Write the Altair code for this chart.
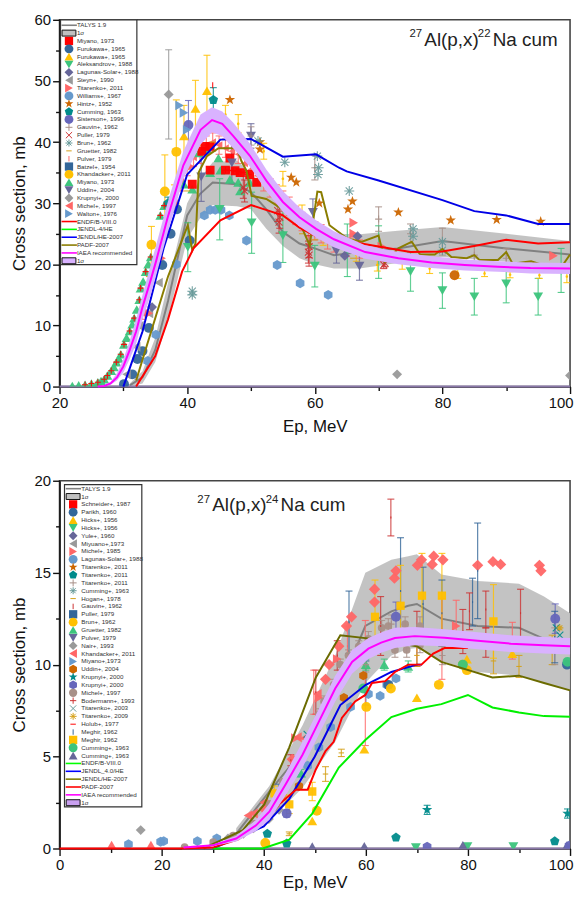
import altair as alt
import pandas as pd

HEX = "M0,-1L.87,-.5V.5L0,1L-.87,.5V-.5Z"
PENT = "M0,-1L.95,-.31L.59,.81H-.59L-.95,-.31Z"
STAR = "M0,-1.1L.26,-.36H1.05L.42,.12L.65,.9L0,.44L-.65,.9L-.42,.12L-1.05,-.36H-.26Z"
PLUS = "M-1,0H1M0,-1V1"
XMARK = "M-1,-1L1,1M-1,1L1,-1"
AST = "M-1,0H1M0,-1V1M-.72,-.72L.72,.72M-.72,.72L.72,-.72"
DASH = "M-1,0H1"
BAR = "M0,-1V1"
STROKED = {PLUS, XMARK, AST, DASH, BAR}

# ---------------- top panel curves
A_iaea_x = [26,27,28,29,30,31,32,33,34.3,35.1,36.9,39.4,42.1,43.9,45.5,47.2,49.8,52.4,55,57.6,60.2,63,67.9,73.1,78.3,83.5,88.7,93.8,100]
A_iaea_y = [0.02,.1,.5,1.5,3.3,6,9,13,17.5,20.4,27.5,36.2,42,43.6,43,41,37.8,33.7,30.2,27.7,25.8,24.1,22,21,20.3,19.9,19.6,19.4,19.3]
A_iaea_u = [.05,.2,.8,2.2,4.5,7.5,11,15,20,23,30,38.5,44.5,45.7,45,43.2,39.8,35.5,32,29.3,27.2,25.4,23.1,22,21.3,20.8,20.5,20.3,20.2]
A_iaea_l = [0,.05,.3,1,2.3,4.5,7,11,15,18,25,34,39.6,41.6,41,39,36,32,28.6,26.2,24.4,22.8,20.9,20,19.4,19,18.8,18.5,18.4]
A_talys_x = [31,33,35,37,40,42,44,47.8,50,52.4,55,57.6,60,63,67,73,80,90,100]
A_talys_u = [.5,2.5,8,17,30,34,36.7,37,35,32.3,29.5,26,25,25,24.9,25.5,26.1,25,23.8]
A_talys_l = [0,.5,4,11,24.2,27.5,29.7,29.5,29,25.8,23,21,20,19.3,19.3,20.2,21.2,20.4,19.6]
A_talys_y = [.2,1.5,6,14,28,31.5,33.4,33.1,31.8,29,25.3,23.4,22.6,21.5,22,22.6,23.8,22.6,21.6]
A_jendl_x = [30,33,36.3,40,45.2,50,55,60.2,63.8,65,70,80,85,90,95,100]
A_jendl_y = [0,9,22.6,34.7,40.4,40.5,37.6,38,35.8,35.2,33.7,30.5,28.7,28,26.6,26.6]
A_padf_x = [32,37,40.1,40.8,41.3,41.8,43.1,44.9,47.8,48.5,49.3,50.1,52.4,55,57.6,59.2,60.4,61,62.3,65.1,67.4,70,71,73.1,75.2,76.5,78.8,80,81.4,83.8,85,85.8,88.7,90,91,93.9,97.5,99,100]
A_padf_y = [1,18,26.4,22.3,23.4,35,37.7,39,39,36.9,35.3,31.2,30.7,29,26.9,23.1,31.9,31.8,26.4,24.2,23.7,24.7,20.4,22.6,23.7,21.6,21.6,22.5,21.2,21,21.5,20.7,20.7,22,20.1,20.5,19.3,20.1,21.6]
A_endf_x = [32,35,37,39.2,41,45.2,50,55,57.6,60,70,75,80,85,90,95,100]
A_endf_y = [0,5,11,18.8,22.6,27.2,29.7,28,26,24.7,22.9,22,22.1,23,24,23.4,23.6]
A_zero_x = [20,100]
A_zero_y = [0,0]

# ---------------- top panel experiments
A_alek_x = [40.1,45.1,50.1,55,60,65.1,70,75,80,85,90,95,98.6]
A_alek_y = [22.8,29,26.8,24.7,19.7,22.3,22,18.8,15.7,14.7,16.8,14.7,19]
A_alek_e = [4,5,5,4.4,3.4,4.3,4.3,3.2,2.9,3,3.1,3,3.6]
A_mitri_x = [22,23,24,25,26,26.5,27,27.5,28.1,28.5,28.9,29.3,29.6,30.1,30.5,31,31.4,31.7,32.1,32.5,32.7,33.1,33.5,33.9,34.3,35.8,36.4,39.5,40.8,41.8,43.1,43.6,44.9,45.2,46.7,48,48.3,49.8]
A_mitri_y = [.1,.2,.3,.5,.7,.9,1.2,1.8,2.6,3.2,4,4.6,5.3,6.9,8,9.1,10.2,11.2,12.6,14.2,16.1,17.2,18.8,20,21.2,28,29.6,33.1,32.3,38.2,38.8,35,37.4,35.4,33.9,33.4,32,33.4]
A_plus_x = [24,25,26,27,27.5,28.1,28.9,29.6,30.1,31,31.7,32.5,32.7,33.5,34.3,35.8,36.4,46,46.6,47.2,47.8,48.4,49,49.6]
A_plus_y = [.3,.5,.7,1.2,1.8,2.6,4,5.3,6.9,9.1,11.2,14.2,16.1,18.8,21.2,28,29.6,35.4,35.4,35.3,35.2,35.1,35,34.7]
A_red_x = [40.8,42.3,42.8,43.6,43.6,46,46.7,47.5,48.3,49.8,50.9]
A_red_y = [33.1,38.5,39.3,39.3,35.4,35.4,37.4,35.3,35,34.7,33.4]
A_furu_x = [30.1,31.4,32.2,33,34,36.1,37.4,38.4,40.4]
A_furu_y = [.4,2,4.5,5.8,9.6,19.9,25,29,23.9]
A_fury_x = [39.5,41.3,43.1]
A_fury_y = [41,45.5,48.4]
A_fury_e = [5,4.6,5.8]
A_lag_x = [34.5,64.7,66.7]
A_lag_y = [13,21.4,24.6]
A_steyn_x = [30.5,32,32.5,34,35.5]
A_steyn_y = [2,6.5,9.9,12,17]
A_tit_x = [66.1,66.1,70.5,97.4,34,36,38,40.5]
A_tit_y = [26.8,25,22.9,21.4,12,21,30,36]
A_will_x = [33.8,35.1,38.3,42.7,43.6,44.4,45.3,46.6,49.3,54.1,57.7,62.1]
A_will_y = [4.2,8.5,20,28,28.9,28.9,28.9,28,23.9,19.9,16.9,15]
A_hintz_x = [46.7,51.4,51.4,56.3,57.1,60.7,65.2,65.9,73.1,81.3,88.5,95.4]
A_hintz_y = [46.9,40,38.8,34.2,33.4,30,29,30.3,28.5,27.2,27.3,27]
A_cum_x = [37,44.1]
A_cum_y = [30,46.9]
A_cum_e = [1,2]
A_teal_x = [38,42,46,48,52,55,58,61.3,66.5,69.8,73.7,78,82.4,86.6,90.6,95.2,99.5]
A_teal_y = [32,41,44.5,43,38.5,34,28.5,24.2,21.5,19.9,20.2,19.3,18.5,18.5,18.3,18.2,18]
A_teal_e = [1,1.5,1.5,1.5,1.3,1.2,1.2,1.1,1,1,1,.8,.8,.5,.5,.5,1]
A_sist_x = [40.2]
A_sist_y = [42.8]
A_sist_e = [4]
A_gauv_x = [50,60,70,75,80,85,90]
A_gauv_y = [41,35.8,27.4,25,23.7,21.5,21]
A_gauv_e = [1.5,2,2,1.6,2.2,1.6,1.6]
A_pull_x = [48.8,49,54.2,54.5,54.4,59.1,59,59.1,70.8,71]
A_pull_y = [32.6,32,28.8,27.7,26.9,22.9,22,21.5,19.9,20.2]
A_pull_e = [1.8,1.8,1.8,1.8,1.8,1.8,1.8,1.8,.6,.6]
A_brun_x = [40.8,40.8,51.1,55.3,60.4,60.6,60.5,65.4,75.4,75.4,80,80]
A_brun_y = [15.6,15,40.2,36.7,37.7,35.8,34.7,32,25.8,24.6,23.7,22.3]
A_grue_x = [34,40,44,58,60,66,78,86]
A_grue_y = [18,32,40,25,24,21,20,19]
A_pulv_x = [44]
A_pulv_y = [49.3]
A_khan_x = [34.4,36.5,38.3]
A_khan_y = [23.2,31.9,38.4]
A_khan_e = [3,6,8.5]
A_uddin_x = [42.2,47,50,59.7,63.4,67]
A_uddin_y = [34.3,36.6,41,28.5,22.2,19.7]
A_uddin_e = [4,3.3,2,2.2,2,2.3]
A_krup_x = [37.1,72.9,100]
A_krup_y = [47.8,2,1.8]
A_krup_e = [7.3,0,0]
A_mich_x = [33,35,38,39,40,41,42,43,44,45,46,47,48,49,50,51,52,53,54,55,56,57,58,59,60,61,62,63,65,66,67]
A_mich_y = [12,20,30,33.5,36,37.5,38,39.5,40,39.5,39,38.5,38,36.5,35.5,34.5,33.5,32.5,31.5,30.5,29.5,28,27,26,25.5,25,24,23.5,22.8,23.5,22.5]
A_mich_e = [1,1,1.5,1.5,1.5,1.5,1.5,1.5,1.5,1.5,1.5,1.5,1.5,1.5,1.5,1.5,1.5,1.5,1.5,1.5,1.5,1.5,1.5,1.5,1.5,1.5,1.5,1.5,1.5,1.5,1.5]
A_walt_x = [38.8,39.5,40]
A_walt_y = [46,44.8,42]
A_orange_x = [81.9]
A_orange_y = [18.2]

# ---------------- bottom panel curves
B_iaea_x = [24.3,30.1,34.6,38.5,41.1,44.3,47.6,50.8,54,57.3,60.5,63,65.7,69.6,75.4,81.9,88.4,94.9,100]
B_iaea_y = [.05,.18,.54,1.26,2,3.5,5.1,6.9,8.7,10.15,10.87,11.2,11.45,11.55,11.46,11.3,11.14,11.05,11]
B_iaea_u = [.06,.22,.7,1.55,2.45,4.1,5.8,7.6,9.4,10.8,11.45,11.75,12,12.05,11.92,11.76,11.6,11.5,11.45]
B_iaea_l = [.03,.14,.38,.95,1.55,2.9,4.4,6.2,8,9.5,10.3,10.65,10.9,11.05,11,10.84,10.68,10.6,10.55]
B_talys_x = [34.6,41.1,47.6,54,59.9,65,68.3,70,74.8,81.9,90,94.9,100]
B_talys_y = [.8,3.1,5.3,8.2,12.1,12.9,13.2,13.3,12.5,12.1,12,11.4,10.9]
B_talys_u = [1.1,3.4,6.7,10.5,15,15.7,15.9,16,14.9,14.55,14.4,13.7,12.8]
B_talys_l = [.55,1.5,3.3,5.8,9,10.5,10.85,10.9,10.2,9.6,9.4,9,8.6]
B_padf_x = [28.2,35.9,40.1,45,50.2,55,61.2,70,74.8,84.8,90,94.9,100]
B_padf_y = [0,1,2.4,5.5,9.3,11.6,11.4,11,10.15,9.3,9.4,9,8.6]
B_endf_x = [30,39.8,45,49.5,54.7,59.9,65,70,74.8,80,84.8,90,94.9,100]
B_endf_y = [0,0,.48,1.9,4.4,5.9,7.15,7.6,7.85,8.35,7.67,7.4,7.2,7.17]
B_jendl_x = [30,40,45,50,55,60,65,70,71]
B_jendl_y = [0,1.2,2.7,5,7.8,8.9,9.6,10,10]
B_red_x = [0,24,30,35,40,43,46.3,48.6,50.2,52.1,53.7,55.3,57.9,59.9,61.2,63.8,65.7,68.3,70.9,73.2,75.4,80]
B_red_y = [0,0,.05,.5,1.4,2.4,3.2,3.2,4.3,5.3,5.8,7.1,8,8.35,9,9.1,9.6,10,10,10.6,10.9,10.9]
B_zero_x = [24,100]
B_zero_y = [0,0]

# ---------------- bottom panel experiments
B_dia_x = [40.1,45.6,52.1,52.8,54.7,56.2,57.2,61.7,61.7,65.6,65.9,70.1,70.9,73,73.3,75.1,81.9,84.9,86.4,94,94.3]
B_dia_y = [2.15,4.85,9.2,10,11,12.1,12.6,13.4,14.1,14.7,15.1,15.4,15.7,15.45,15.9,15.7,15.4,15.6,15.45,15.4,15.1]
B_left_x = [36.9,46.6,47.9,50.5,38,40]
B_left_y = [1.8,6.05,6,8.4,1.9,2.5]
B_right_x = [46.2,54.4,77.7,50.8]
B_right_y = [6,10.3,12.1,8.2]
B_tan_x = [24.5,30.1,34,37.9,41.1,43.7,46.3,48.9,50.8,51.8,53.7,55,56.6,58.6,60.5,63.1,64.4,65.7,67.7,68,70.6,70.6]
B_tan_y = [.08,.35,.7,1.35,2.4,3.6,4.6,5.8,7.3,8,8.9,10,10.5,11,11.4,12,12.1,10.8,12.2,10.8,12.1,11.05]
B_tan_e = [.05,.1,.1,.15,.2,.2,.25,.25,.3,.3,.3,.3,.3,.3,.4,.4,.4,.4,.4,.4,.5,.4]
B_hex_x = [13.5,19.8,20.4,27,30.8,48.6,50.8,53.1,57,60.5,62.8,64.1,65.9]
B_hex_y = [.23,.37,.4,.4,.55,4.5,5.5,6.6,7.7,8.4,8.3,8.9,9.25]
B_tri_x = [10.2,17.9]
B_tri_y = [.19,.19]
B_nair_x = [15.9,33,36,38,41,43]
B_nair_y = [1,.55,.8,1.1,1.6,2.1]
B_dblue_x = [64.4,99.4]
B_dblue_y = [8.9,10]
B_ysq_x = [42.1,45,49.5,61.8,66.8,71,74.9,85]
B_ysq_y = [3,2.4,3.1,12.6,13.2,13.75,13.75,12.35]
B_ysq_e = [.4,.5,.5,2,2.2,2.3,2.3,2]
B_ytri_x = [49.5,59.7,70,79.8,88.7]
B_ytri_y = [1.5,5.4,8.2,10.3,10.6]
B_ycir_x = [40.3,50.4,60.1,64.9,74.3,79,79.8]
B_ycir_y = [.3,2.05,7.7,8.7,8.9,10,9.7]
B_gtri_x = [47.3,60,63.6,68.3]
B_gtri_y = [4.1,10,10,9.9]
B_gtri_e = [.2,.3,.3,.3]
B_pent_x = [40.7,44.5,65.9,97]
B_pent_y = [.8,.27,.6,.39]
B_kstar_x = [72,99.5]
B_kstar_y = [2.1,1.9]
B_kstar_e = [.25,.25]
B_ptri_x = [49.5,59.7,79,99.4]
B_ptri_y = [.1,.12,.17,.17]
B_gdown_x = [69.8,79.9,88.9]
B_gdown_y = [.05,.1,.1]
B_phex_x = [72,99.8]
B_phex_y = [.1,.15]
B_gcir_x = [59.5,79,99.5]
B_gcir_y = [8.7,10,10.15]
B_ohex_x = [46.9,55.7,59.5]
B_ohex_y = [3.4,8.2,9.4]
B_kcir_x = [44.5,65.9,97.1]
B_kcir_y = [1.9,12.6,12.5]
B_kcir_e = [.2,.8,.8]
B_blue_x = [43,56.7,60,66.8,71.2,74.9,80.9,81.9,97]
B_blue_y = [3,12.3,9,14,13.3,12.8,13.4,15.1,11.5]
B_blue_e = [.5,1.7,1.2,2.9,2,1.8,1.3,2.6,1.4]
B_rbar_x = [45.3,50.2,54.4,62.9,70,79,80.3,83.5,83.5,90.3,64.9]
B_rbar_y = [4.8,8.5,10.5,12.1,11.4,11.8,12.9,13,11.2,12.8,18]
B_rbar_e = [.3,1.2,.8,1.6,1.5,1.2,1,1,.8,1.3,1]
B_pbar_x = [59.9,56.4,49.8,88.7,74.9,77.7]
B_pbar_y = [9,11,8.5,11.3,11.4,12.2]
B_pbar_e = [3.4,1.1,1.2,1,2.2,1.3]
B_gold_x = [45,52.1,55.2,70,85,90,96.5]
B_gold_y = [.8,4.05,5.2,10.5,10.2,9.9,10.8]
B_gold_e = [.1,.4,.2,.6,.7,.6,.8]
B_gauv_x = [75,60,65,97]
B_gauv_y = [10.5,10,12.2,11]
B_gauv_e = [.5,.4,.5,1]
B_xt_x = [48.5,62,97.3,98]
B_xt_y = [6.2,10.8,12,11.6]
B_ast_x = [98,44]
B_ast_y = [12,2.8]

A_legend = ["TALYS 1.9","1σ","Miyano, 1973","Furukawa+, 1965","Furukawa+, 1965","Aleksandrov+, 1988","Lagunas-Solar+, 1988","Steyn+, 1990","Titarenko+, 2011","Williams+, 1967","Hintz+, 1952","Cumming, 1963","Sisterson+, 1996","Gauvin+, 1962","Puller, 1979","Brun+, 1962","Gruetter, 1982","Pulver, 1979","Batzel+, 1954","Khandacker+, 2011","Miyano, 1973","Uddin+, 2004","Krupnyi+, 2000","Michel+, 1997","Walton+, 1976","ENDF/B-VIII.0","JENDL-4/HE","JENDL/HE-2007","PADF-2007","IAEA recommended","1σ"]
B_legend = ["TALYS 1.9","1σ","Schneider+, 1987","Parikh, 1960","Hicks+, 1956","Hicks+, 1956","Yule+, 1960","Miyuano+,1973","Michel+, 1985","Lagunas-Solar+, 1988","Titarenko+, 2011","Titarenko+, 2011","Titarenko+, 2011","Cumming+, 1963","Hogan+, 1978","Gauvin+, 1962","Puller, 1979","Brun+, 1962","Gruetter, 1982","Pulver, 1979","Nair+, 1993","Khandacker+, 2011","Miyano+,1973","Uddin+, 2004","Krupnyi+, 2000","Krupnyi+, 2000","Michel+, 1997","Bodermann+, 1993","Titarenko+, 2003","Titarenko+, 2009","Holub+, 1977","Meghir, 1962","Meghir, 1962","Cumming+, 1963","Cumming+, 1963","ENDF/B-VIII.0","JENDL_4.0/HE","JENDL/HE-2007","PADF-2007","IAEA recommended","1σ"]

RED, NAVY, GOLD, GREEN, SLATE, GREY, PINK, SKY, ORANGE, TEAL, VIOLET, TAN, BRICK, SAGE, AMBER = (
    "#ff0000", "#336699", "#ffc000", "#3cc47c", "#666699", "#999999", "#ff6666", "#6699cc",
    "#cc6600", "#008b8b", "#6666bb", "#a89088", "#cc3333", "#669999", "#d4a017")
S = 100

# glyph, colour, size, xs, ys, errs
A_series = [
    (DASH, AMBER, 36, A_grue_x, A_grue_y, None),
    (HEX, SKY, S, A_will_x, A_will_y, None),
    ("circle", NAVY, S, A_furu_x, A_furu_y, None),
    ("triangle-left", GREY, S, A_steyn_x, A_steyn_y, None),
    ("triangle-right", PINK, S, A_tit_x, A_tit_y, None),
    ("triangle-left", PINK, 60, A_mich_x, A_mich_y, A_mich_e),
    ("triangle-down", GREEN, S, A_alek_x, A_alek_y, A_alek_e),
    (HEX, GOLD, 8, A_teal_x, A_teal_y, A_teal_e),
    ("triangle-up", GREEN, S, A_mitri_x, A_mitri_y, None),
    ("square", RED, 80, A_red_x, A_red_y, None),
    (PLUS, RED, 40, A_plus_x, A_plus_y, None),
    ("triangle-up", GOLD, S, A_fury_x, A_fury_y, A_fury_e),
    ("diamond", SLATE, S, A_lag_x, A_lag_y, None),
    (STAR, ORANGE, S, A_hintz_x, A_hintz_y, None),
    (PENT, TEAL, S, A_cum_x, A_cum_y, A_cum_e),
    ("circle", VIOLET, S, A_sist_x, A_sist_y, A_sist_e),
    (PLUS, TAN, 50, A_gauv_x, A_gauv_y, A_gauv_e),
    (XMARK, BRICK, 50, A_pull_x, A_pull_y, A_pull_e),
    (AST, SAGE, S, A_brun_x, A_brun_y, None),
    (BAR, RED, 36, A_pulv_x, A_pulv_y, None),
    ("circle", GOLD, S, A_khan_x, A_khan_y, A_khan_e),
    ("triangle-down", SLATE, S, A_uddin_x, A_uddin_y, A_uddin_e),
    ("diamond", GREY, S, A_krup_x, A_krup_y, A_krup_e),
    ("triangle-right", SKY, S, A_walt_x, A_walt_y, None),
    ("circle", ORANGE, S, A_orange_x, A_orange_y, None),
]
A_lines = [(A_zero_x, A_zero_y, "#8a78a8", 2), (A_jendl_x, A_jendl_y, "#0000e6", 2), (A_padf_x, A_padf_y, "#8a7d00", 2), (A_endf_x, A_endf_y, "#ff0000", 2)]

B_series = [
    (HEX, SKY, S, B_hex_x, B_hex_y, None),
    ("diamond", PINK, 130, B_dia_x, B_dia_y, None),
    ("triangle-up", PINK, S, B_tri_x, B_tri_y, None),
    ("triangle-left", PINK, S, B_left_x, B_left_y, None),
    ("triangle-right", PINK, S, B_right_x, B_right_y, None),
    ("diamond", GREY, S, B_nair_x, B_nair_y, None),
    ("circle", TAN, 60, B_tan_x, B_tan_y, B_tan_e),
    ("circle", NAVY, S, B_dblue_x, B_dblue_y, None),
    (BAR, NAVY, 4, B_blue_x, B_blue_y, B_blue_e),
    (BAR, BRICK, 4, B_rbar_x, B_rbar_y, B_rbar_e),
    (BAR, PINK, 4, B_pbar_x, B_pbar_y, B_pbar_e),
    (DASH, AMBER, 30, B_gold_x, B_gold_y, B_gold_e),
    (PLUS, TAN, 40, B_gauv_x, B_gauv_y, B_gauv_e),
    ("triangle-up", GOLD, S, B_ytri_x, B_ytri_y, None),
    ("square", GOLD, 70, B_ysq_x, B_ysq_y, B_ysq_e),
    ("circle", GOLD, S, B_ycir_x, B_ycir_y, None),
    ("triangle-up", GREEN, S, B_gtri_x, B_gtri_y, B_gtri_e),
    (PENT, TEAL, S, B_pent_x, B_pent_y, None),
    (STAR, TEAL, S, B_kstar_x, B_kstar_y, B_kstar_e),
    ("triangle-down", GREEN, S, B_gdown_x, B_gdown_y, None),
    ("triangle-up", SLATE, S, B_ptri_x, B_ptri_y, None),
    (HEX, VIOLET, S, B_phex_x, B_phex_y, None),
    ("circle", GREEN, S, B_gcir_x, B_gcir_y, None),
    (HEX, ORANGE, 90, B_ohex_x, B_ohex_y, None),
    ("circle", VIOLET, S, B_kcir_x, B_kcir_y, B_kcir_e),
    (XMARK, TEAL, 50, B_xt_x, B_xt_y, None),
    (AST, AMBER, 50, B_ast_x, B_ast_y, None),
]
B_lines = [(B_zero_x, B_zero_y, "#8a78a8", 2), (B_jendl_x, B_jendl_y, "#0000e6", 2), (B_padf_x, B_padf_y, "#6b6b00", 2), (B_endf_x, B_endf_y, "#00f000", 2), (B_red_x, B_red_y, "#ff0000", 2)]

# legend swatches, in legend order: (kind, colour, glyph, size)
L = lambda c: ("line", c, None, 0)
A_swatches = [L("#808080"), ("box", "#c0c0c0", None, 0), ("m", RED, "square", 70), ("m", NAVY, "circle", 80), ("m", GOLD, "triangle-up", 80), ("m", GREEN, "triangle-down", 80),
    ("m", SLATE, "diamond", 80), ("m", GREY, "triangle-left", 80), ("m", PINK, "triangle-right", 80), ("m", SKY, "circle", 80), ("m", ORANGE, STAR, 70), ("m", TEAL, PENT, 80),
    ("m", VIOLET, "circle", 80), ("m", TAN, PLUS, 50), ("m", BRICK, XMARK, 40), ("m", SAGE, AST, 50), ("m", AMBER, DASH, 30), ("m", PINK, BAR, 30), ("m", NAVY, "square", 70),
    ("m", GOLD, "circle", 80), ("m", GREEN, "triangle-up", 80), ("m", SLATE, "triangle-down", 80), ("m", GREY, "diamond", 80), ("m", PINK, "triangle-left", 80), ("m", SKY, "triangle-right", 80),
    L("#ff0000"), L("#00ff00"), L("#0000ff"), L("#8a7d00"), L("#ff00ff"), ("box", "#d9b2ff", None, 0)]
B_swatches = [L("#808080"), ("box", "#c0c0c0", None, 0), ("m", RED, "square", 70), ("m", NAVY, "circle", 80), ("m", GOLD, "triangle-up", 80), ("m", GREEN, "triangle-down", 80),
    ("m", SLATE, "diamond", 80), ("m", GREY, "triangle-left", 80), ("m", PINK, "triangle-right", 80), ("m", SKY, "circle", 80), ("m", ORANGE, STAR, 70), ("m", TEAL, PENT, 80), ("m", TAN, PLUS, 50),
    ("m", SAGE, AST, 50), ("m", AMBER, DASH, 30), ("m", BRICK, BAR, 30), ("m", NAVY, "square", 70), ("m", GOLD, "circle", 80), ("m", GREEN, "triangle-up", 80), ("m", SLATE, "triangle-down", 80),
    ("m", GREY, "diamond", 80), ("m", PINK, "triangle-left", 80), ("m", SKY, "triangle-right", 80), ("m", ORANGE, HEX, 80), ("m", TEAL, STAR, 70), ("m", VIOLET, HEX, 80), ("m", TAN, "circle", 70),
    ("m", BRICK, PLUS, 40), ("m", SAGE, XMARK, 40), ("m", AMBER, AST, 50), ("m", RED, DASH, 30), ("m", NAVY, BAR, 30), ("m", GOLD, "square", 70), ("m", GREEN, "circle", 80), ("m", SLATE, "triangle-up", 80),
    L("#00ff00"), L("#0000ff"), L("#808000"), L("#ff0000"), L("#ff00ff"), ("box", "#c9a0f0", None, 0)]


def panel(series, lines, talys, iaea, legend, swatches, title_sup, xdom, ydom, xvals, yvals, xmaj, ymaj,
          box, rows, lx, tx, titlepos, xtitle_pad, w, h):
    # convert legend layout in picture offsets to the chart's data coordinates
    px = lambda v: xdom[0] + v / w * (xdom[1] - xdom[0])
    py = lambda v: ydom[1] - v / h * (ydom[1] - ydom[0])
    xax = alt.Axis(values=xvals, title="Ep, MeV", grid=False, labelExpr=f"datum.value%{xmaj}==0?datum.label:''", labelOverlap=False, labelFlush=False,
                   labelAlign={"condition": {"test": "datum.value==100", "value": "right"}, "value": "center"},
                   labelOffset={"condition": {"test": "datum.value==100", "value": 3}, "value": 0}, titlePadding=xtitle_pad, labelPadding=2,
                   tickSize={"condition": {"test": f"datum.value%{xmaj}==0", "value": 7}, "value": 4})
    yax = alt.Axis(values=yvals, title="Cross section, mb", grid=False, labelExpr=f"datum.value%{ymaj}==0?datum.label:''", labelOverlap=False, titlePadding=6,
                   tickSize={"condition": {"test": f"datum.value%{ymaj}==0", "value": 7}, "value": 4})
    X = alt.X("x:Q", scale=alt.Scale(domain=xdom, nice=False), axis=xax)
    Y = alt.Y("y:Q", scale=alt.Scale(domain=ydom, nice=False), axis=yax)
    C = alt.Color("c:N", scale=None)
    layers = []
    tx_, ty_, tu_, tl_ = talys
    layers.append(alt.Chart(pd.DataFrame({"x": tx_, "y": tl_, "y2": tu_})).mark_area(color="#c0c0c0", opacity=.95).encode(X, Y, y2="y2:Q"))
    layers.append(alt.Chart(pd.DataFrame({"x": tx_, "y": ty_})).mark_line(color="#808080", strokeWidth=2).encode(X, Y))
    for xs, ys, col, sw in lines[:1]:
        layers.append(alt.Chart(pd.DataFrame({"x": xs, "y": ys})).mark_line(color=col, strokeWidth=sw).encode(X, Y))

    err, caps, fill, stroke = [], [], [], []
    for glyph, col, size, xs, ys, es in series:
        for i, (a, b) in enumerate(zip(xs, ys)):
            row = {"x": a, "y": b, "c": col, "g": glyph, "s": size}
            (stroke if glyph in STROKED else fill).append(row)
            if es is not None and es[i] > 0:
                err.append({"x": a, "y": b - es[i], "y2": b + es[i], "c": col})
                caps.append({"x": a, "y": b - es[i], "c": col})
                caps.append({"x": a, "y": b + es[i], "c": col})
    layers.append(alt.Chart(pd.DataFrame(err)).mark_rule(strokeWidth=1.2, opacity=.8).encode(X, Y, y2="y2:Q", color=C))
    layers.append(alt.Chart(pd.DataFrame(caps).assign(g=DASH, s=49)).mark_point(strokeWidth=1.1, opacity=.85, clip=True).encode(
        X, Y, color=C, shape=alt.Shape("g:N", scale=None), size=alt.Size("s:Q", scale=None)))
    layers.append(alt.Chart(pd.DataFrame(fill)).mark_point(filled=True, opacity=.95, strokeWidth=0, clip=True).encode(
        X, Y, color=C, shape=alt.Shape("g:N", scale=None), size=alt.Size("s:Q", scale=None)))
    layers.append(alt.Chart(pd.DataFrame(stroke)).mark_point(strokeWidth=1.1, opacity=.9, clip=True).encode(
        X, Y, color=C, shape=alt.Shape("g:N", scale=None), size=alt.Size("s:Q", scale=None)))
    for xs, ys, col, sw in lines[1:]:
        layers.append(alt.Chart(pd.DataFrame({"x": xs, "y": ys})).mark_line(color=col, strokeWidth=sw).encode(X, Y))
    ix, iy, iu, il = iaea
    layers.append(alt.Chart(pd.DataFrame({"x": ix, "y": il, "y2": iu})).mark_area(color="#d9b2ff").encode(X, Y, y2="y2:Q"))
    layers.append(alt.Chart(pd.DataFrame({"x": ix, "y": iy})).mark_line(color="#ff00ff", strokeWidth=2).encode(X, Y))

    # title pieces
    tp = titlepos
    pieces = [("27", tp, -9, 11.5), ("Al(p,x)", tp + 15, 0, 19), (title_sup, tp + 69, -9, 11.5), ("Na cum", tp + 84, 0, 19)]
    base = 26
    if ydom[1] == 20:
        base = 31
    for s, a, dy, fs in pieces:
        layers.append(alt.Chart(pd.DataFrame({"x": [px(a)], "y": [py(base + dy)], "t": [s]})).mark_text(
            align="left", baseline="alphabetic", fontSize=fs, font="Liberation Sans", color="#222").encode(X, Y, text="t:N"))

    # legend: frame, swatches, labels
    x0, x1, y0, y1 = box
    layers.append(alt.Chart(pd.DataFrame({"x": [px(x0)], "x2": [px(x1)], "y": [py(y0)], "y2": [py(y1)]})).mark_rect(
        fill="white", stroke="#333", strokeWidth=1.2).encode(X, Y, x2="x2:Q", y2="y2:Q"))
    r0, step = rows
    lab, lp, ls = [], [], []
    for i, (name, sw) in enumerate(zip(legend, swatches)):
        yy = r0 + i * step
        lab.append({"x": px(tx), "y": py(yy), "t": name})
        kind, col, glyph, size = sw
        if kind == "m":
            (ls if glyph in STROKED else lp).append({"x": px(lx), "y": py(yy), "c": col, "g": glyph, "s": size})
        elif kind == "line":
            layers.append(alt.Chart(pd.DataFrame({"x": [px(lx - 7.5)], "x2": [px(lx + 8)], "y": [py(yy)]})).mark_rule(color=col, strokeWidth=1.6).encode(X, Y, x2="x2:Q"))
        else:
            layers.append(alt.Chart(pd.DataFrame({"x": [px(lx - 7)], "x2": [px(lx + 7)], "y": [py(yy - 3)], "y2": [py(yy + 3)]})).mark_rect(
                fill=col, stroke="#111", strokeWidth=1).encode(X, Y, x2="x2:Q", y2="y2:Q"))
    layers.append(alt.Chart(pd.DataFrame(lp)).mark_point(filled=True, strokeWidth=0, opacity=1).encode(
        X, Y, color=C, shape=alt.Shape("g:N", scale=None), size=alt.Size("s:Q", scale=None)))
    layers.append(alt.Chart(pd.DataFrame(ls)).mark_point(strokeWidth=1, opacity=1).encode(
        X, Y, color=C, shape=alt.Shape("g:N", scale=None), size=alt.Size("s:Q", scale=None)))
    layers.append(alt.Chart(pd.DataFrame(lab)).mark_text(align="left", baseline="middle", fontSize=6.3, font="Liberation Sans", color="#333").encode(X, Y, text="t:N"))
    return alt.layer(*layers).properties(width=w, height=h)


W = 515
top = panel(A_series, A_lines, (A_talys_x, A_talys_y, A_talys_u, A_talys_l), (A_iaea_x, A_iaea_y, A_iaea_u, A_iaea_l), A_legend, A_swatches, "22",
            [20, 100], [0, 60], list(range(20, 101, 10)), list(range(0, 61, 5)), 20, 10,
            (1, 78, 0, 247), (5.5, 7.92), 9.5, 17.5, 353, 8, W, 370)
bot = panel(B_series, B_lines, (B_talys_x, B_talys_y, B_talys_u, B_talys_l), (B_iaea_x, B_iaea_y, B_iaea_u, B_iaea_l), B_legend, B_swatches, "24",
            [0, 100], [0, 20], list(range(0, 101, 10)), [i * 2.5 for i in range(0, 9)], 20, 5,
            (5, 83, 4, 329), (8, 7.92), 13.7, 22, 139, 2, W, 371)

chart = alt.vconcat(top, bot, spacing=95, bounds="flush", padding={"left": 1, "top": 0, "right": 0, "bottom": 0}).configure_view(
    stroke="#444", strokeWidth=1.6
).configure_axis(
    labelFont="Liberation Sans", titleFont="Liberation Sans", labelFontSize=15, titleFontSize=17, titleFontWeight="normal",
    labelColor="#111", titleColor="#111", domainColor="#111", tickColor="#111", domainWidth=1.6, tickWidth=1.4
)
chart.save("out.html", embed_options={"renderer": "svg", "actions": False})
